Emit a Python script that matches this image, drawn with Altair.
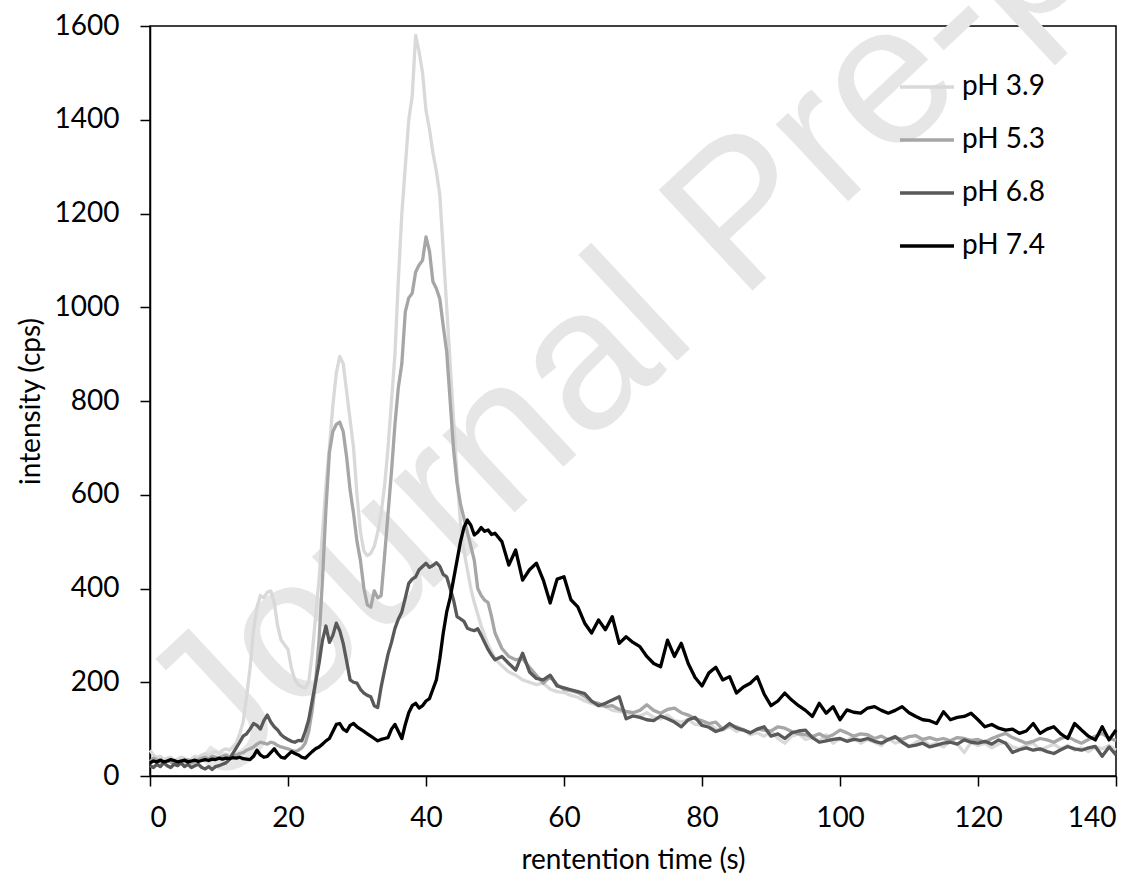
import altair as alt
import pandas as pd

# time axis (s): 0.5 s steps up to 50 s, then 1 s steps
time_fine = [i * 0.5 for i in range(101)]
time_tail = list(range(51, 141))
time_s = time_fine + time_tail

series_names = ["pH 3.9", "pH 5.3", "pH 6.8", "pH 7.4"]
series_colors = ["#d9d9d9", "#a6a6a6", "#595959", "#000000"]

ph39 = [55, 45, 40, 42, 35, 38, 40, 33, 36, 40,
        38, 32, 36, 42, 40, 45, 48, 44, 50, 52,
        48, 55, 58, 55, 62, 70, 90, 115, 170, 230,
        310, 360, 385, 380, 392, 395, 370, 320, 290, 280,
        270, 230, 205, 195, 190, 188, 200, 260, 340, 420,
        520, 620, 700, 790, 860, 895, 880, 820, 760, 700,
        600, 520, 480, 470, 475, 490, 520, 560, 620, 700,
        800, 900, 1060, 1200, 1300, 1400, 1450, 1580, 1545, 1500,
        1420, 1380, 1330, 1290, 1240, 1120, 1000, 880, 760, 640,
        540, 480, 440, 400, 370, 345, 320, 300, 280, 265,
        250,
        235, 222, 215, 205, 200, 195, 198, 185, 180, 178,
        172, 168, 160, 155, 150, 148, 140, 138, 135, 130,
        128, 135, 125, 122, 130, 118, 115, 120, 110, 108,
        112, 100, 98, 105, 95, 100, 88, 92, 85, 95,
        80, 70, 85, 90, 78, 82, 75, 88, 70, 80,
        75, 85, 70, 78, 72, 65, 80, 70, 75, 62,
        72, 78, 65, 70, 62, 75, 68, 50, 72, 65,
        70, 60, 68, 72, 62, 58, 66, 70, 55, 62,
        68, 58, 65, 55, 60, 52, 62, 58, 65, 55]

ph53 = [30, 38, 35, 30, 28, 32, 30, 25, 28, 32,
        30, 35, 28, 30, 35, 38, 40, 36, 42, 40,
        38, 42, 45, 40, 42, 45, 48, 50, 55, 58,
        62, 68, 72, 70, 68, 72, 70, 65, 62, 60,
        58, 55, 52, 55, 60, 70, 95, 140, 200, 290,
        420, 570, 690, 735, 750, 755, 735, 680, 610, 560,
        500, 460, 400, 365, 360, 395, 380, 385, 470, 560,
        650, 750, 830, 880, 990, 1020, 1030, 1075, 1090, 1100,
        1150, 1120, 1055, 1040, 1018, 960, 905, 800, 696, 625,
        580, 550, 520, 490, 460, 400, 385, 375, 370, 340,
        305,
        272, 255, 248, 250, 232, 215, 198, 212, 195, 185,
        182, 178, 170, 158, 155, 148, 150, 142, 138, 135,
        140, 152, 140, 134, 142, 145, 135, 130, 122, 118,
        112, 115, 100, 108, 105, 98, 92, 100, 98, 96,
        105, 102, 95, 90, 88, 84, 90, 82, 88, 98,
        92, 85, 90, 88, 80, 85, 77, 82, 78, 84,
        86, 78, 82, 77, 80, 75, 82, 80, 76, 78,
        72, 80, 86, 91, 82, 76, 70, 74, 80, 77,
        72, 80, 84, 76, 70, 78, 85, 91, 80, 76]

ph68 = [22, 18, 25, 20, 28, 22, 18, 25, 22, 28,
        20, 25, 18, 22, 25, 18, 15, 20, 14, 20,
        22, 25, 28, 35, 48, 60, 72, 85, 90, 100,
        112, 108, 100, 118, 130, 115, 105, 98, 88, 82,
        78, 74, 72, 76, 75, 95, 120, 160, 200, 240,
        290, 320, 285, 300, 326, 310, 283, 245, 205, 200,
        198, 185, 177, 172, 169, 150, 146, 190, 226, 260,
        285, 315, 335, 350, 380, 411, 420, 425, 440, 447,
        454, 445, 449, 455, 447, 430, 425, 400, 375, 340,
        335, 330, 315, 312, 310, 314, 300, 285, 270, 258,
        248,
        255, 240, 226, 262, 222, 208, 205, 215, 192, 188,
        184, 180, 176, 160, 150, 155, 162, 169, 122, 128,
        125, 120, 118, 128, 122, 115, 105, 120, 125, 108,
        104, 95, 100, 112, 102, 98, 92, 100, 105, 85,
        90, 80, 92, 96, 98, 82, 72, 75, 78, 80,
        74, 78, 76, 80, 74, 70, 78, 84, 72, 63,
        66, 70, 62, 66, 70, 72, 68, 77, 72, 70,
        74, 68, 77, 70, 50, 56, 60, 55, 58, 52,
        48, 56, 63, 58, 55, 60, 63, 42, 62, 45]

ph74 = [28, 32, 30, 34, 30, 32, 35, 33, 30, 32,
        34, 30, 32, 34, 31, 33, 35, 33, 36, 35,
        38, 36, 38, 37, 39, 38, 40, 37, 36, 35,
        42, 55, 45, 40, 42, 50, 58, 48, 40, 38,
        45, 52, 48, 45, 40, 38, 45, 52, 58, 62,
        68, 75, 80, 95, 110, 112, 100, 95, 108, 112,
        105, 100, 95, 90, 85, 80, 75, 78, 80, 82,
        100, 110, 95, 80, 110, 135, 150, 155, 145, 150,
        160, 165, 185, 205, 250, 305, 350, 380, 420, 460,
        500, 530, 546, 535, 514, 520, 530, 522, 525, 515,
        518,
        500, 450, 482, 418, 440, 454, 418, 369, 420, 425,
        376, 361, 326, 305, 333, 312, 340, 283, 297, 285,
        276, 255, 240, 233, 290, 255, 283, 240, 210, 192,
        220, 232, 205, 212, 177, 190, 198, 212, 175, 150,
        160, 177, 162, 150, 140, 127, 155, 134, 148, 120,
        141, 136, 134, 145, 148, 140, 134, 140, 148, 135,
        127, 120, 118, 112, 137, 120, 125, 127, 134, 120,
        105, 110, 102, 98, 100, 91, 96, 112, 91, 100,
        105, 90, 80, 112, 98, 85, 77, 105, 77, 98]

x_ticks = [0, 20, 40, 60, 80, 100, 120, 140]
y_ticks = [0, 200, 400, 600, 800, 1000, 1200, 1400, 1600]
watermark_text = "Journal Pre-proof"

rows = []
for name, vals in zip(series_names, [ph39, ph53, ph68, ph74]):
    for t, v in zip(time_s, vals):
        rows.append({"series": name, "t": t, "v": v})
df = pd.DataFrame(rows)

FONT = "Lato"
FS = 28

wm = alt.Chart(pd.DataFrame({"text": [watermark_text]})).mark_text(
    font="Liberation Sans", fontSize=200, color="#e6e6e6", angle=317,
    align="left", baseline="alphabetic"
).encode(x=alt.value(70), y=alt.value(761), text="text:N")

lines = alt.Chart(df).mark_line(strokeWidth=3.3, strokeJoin="round").encode(
    x=alt.X("t:Q", scale=alt.Scale(domain=[0, 140], nice=False),
            axis=alt.Axis(values=x_ticks, format="d", title="rentention time (s)",
                          labelPadding=18, titlePadding=14)),
    y=alt.Y("v:Q", scale=alt.Scale(domain=[0, 1600], nice=False),
            axis=alt.Axis(values=y_ticks, format="d", title="intensity (cps)",
                          labelPadding=21, titlePadding=9)),
    color=alt.Color("series:N",
                    scale=alt.Scale(domain=series_names, range=series_colors),
                    legend=alt.Legend(title=None, orient="none", legendX=748, legendY=32,
                                      symbolType="stroke", symbolSize=2916,
                                      symbolStrokeWidth=3.3, labelFont=FONT,
                                      labelFontSize=FS, labelColor="black",
                                      labelOffset=6, rowPadding=10, padding=0)),
)

chart = alt.layer(wm, lines).properties(
    width=966, height=750,
    autosize=alt.AutoSizeParams(type="none"),
    padding={"left": 150, "top": 26, "right": 30, "bottom": 107},
    background="white",
).configure_view(stroke="black", strokeWidth=1.5).configure_axis(
    grid=False, labelFont=FONT, labelFontSize=FS, labelColor="black",
    titleFont=FONT, titleFontSize=FS, titleFontWeight="normal", titleColor="black",
    domainColor="black", domainWidth=1.5, tickColor="black", tickWidth=1.5, tickSize=10,
)

chart.save("out.html", embed_options={"renderer": "svg", "actions": False})
